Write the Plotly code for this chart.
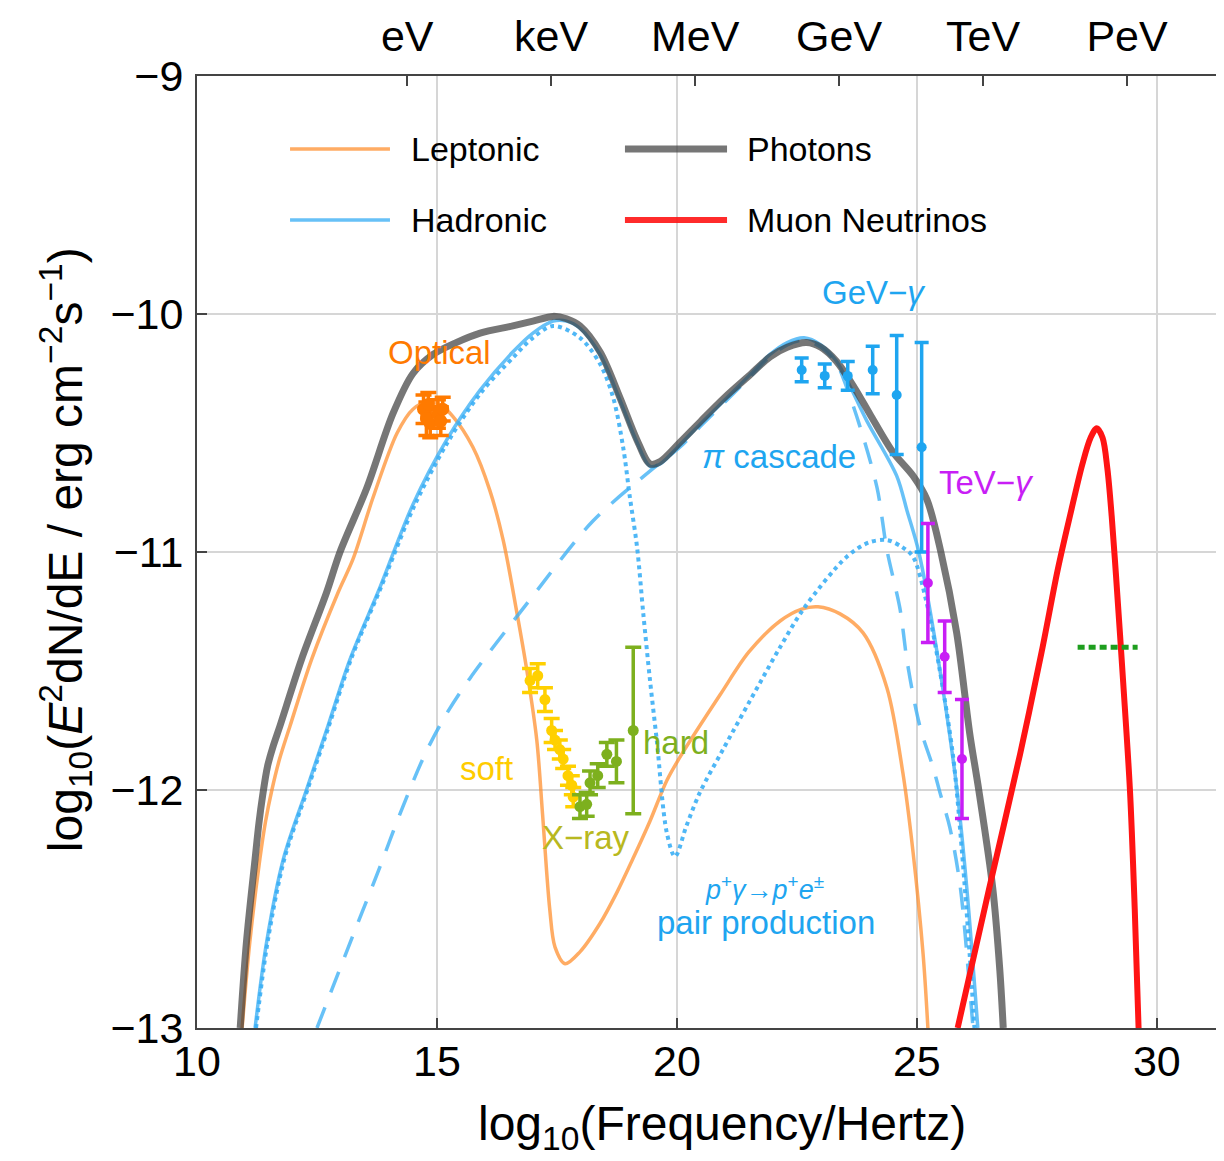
import plotly.graph_objects as go

# ---------------- data ----------------
x_photons = [10.9, 11.03, 11.21, 11.29, 11.37, 11.47, 11.58, 11.73, 12.18, 12.7, 12.98, 13.54, 14.08, 14.5,
             14.92, 15.4, 15.9, 16.58, 17.0, 17.42, 17.7, 17.98, 18.4, 18.81, 19.17, 19.44, 19.65, 20.06,
             20.5, 21.0, 21.5, 21.94, 22.3, 22.7, 23.0, 23.33, 23.7, 24.02, 24.5, 24.92, 25.21, 25.5, 25.83,
             26.1, 26.29, 26.58, 26.73, 26.8]
y_photons = [-13.0, -12.64, -12.29, -12.14, -12.02, -11.9, -11.82, -11.73, -11.45, -11.17, -11.0, -10.73,
             -10.42, -10.25, -10.17, -10.12, -10.08, -10.05, -10.03, -10.01, -10.02, -10.05, -10.16, -10.35,
             -10.53, -10.63, -10.62, -10.54, -10.45, -10.35, -10.26, -10.18, -10.14, -10.12, -10.14, -10.2,
             -10.31, -10.42, -10.58, -10.68, -10.78, -11.0, -11.34, -11.76, -12.0, -12.41, -12.76, -13.0]

x_leptonic = [10.94, 11.1, 11.31, 11.43, 11.56, 11.72, 11.94, 12.39, 12.94, 13.25, 13.67, 14.17, 14.5, 14.8,
              15.05, 15.33, 15.75, 16.1, 16.38, 16.67, 16.875, 17.08, 17.2, 17.35, 17.46, 17.67, 17.98, 18.4,
              18.75, 19.08, 19.44, 19.79, 20.1, 20.9, 21.5, 22.15, 22.6, 22.94, 23.4, 23.88, 24.375, 24.71,
              24.92, 25.13, 25.23]
y_leptonic = [-13.0, -12.64, -12.29, -12.13, -12.0, -11.87, -11.73, -11.45, -11.17, -11.03, -10.77, -10.5,
              -10.4, -10.37, -10.38, -10.43, -10.56, -10.74, -10.95, -11.26, -11.5, -11.79, -12.1, -12.5,
              -12.66, -12.73, -12.68, -12.56, -12.43, -12.29, -12.13, -11.96, -11.85, -11.6, -11.42, -11.29,
              -11.24, -11.23, -11.26, -11.34, -11.57, -11.93, -12.26, -12.69, -13.0]

x_hadronic = [11.21, 11.45, 11.8, 12.28, 12.73, 13.19, 13.81, 14.5, 15.2, 15.9, 16.58, 17.0, 17.42, 17.7,
              17.98, 18.4, 18.81, 19.17, 19.44, 19.65, 20.06, 20.5, 21.0, 21.5, 21.94, 22.3, 22.65, 23.0,
              23.33, 23.96, 24.58, 24.8, 25.04, 25.42, 25.83, 26.04, 26.27]
y_hadronic = [-13.0, -12.64, -12.29, -12.0, -11.73, -11.45, -11.15, -10.8, -10.53, -10.32, -10.16, -10.08,
              -10.03, -10.03, -10.06, -10.17, -10.36, -10.54, -10.64, -10.63, -10.55, -10.46, -10.36, -10.26,
              -10.17, -10.12, -10.1, -10.13, -10.2, -10.45, -10.68, -10.83, -11.0, -11.42, -11.99, -12.41,
              -13.0]

x_pair = [11.23, 11.47, 11.82, 12.3, 12.75, 13.21, 13.83, 14.52, 15.22, 15.92, 16.6, 17.0, 17.42, 17.98,
          18.4, 18.67, 18.88, 19.02, 19.17, 19.3, 19.44, 19.58, 19.79, 19.96, 20.2, 20.48, 20.96, 21.73,
          22.15, 22.67, 23.54, 24.0, 24.375, 24.7, 24.92, 25.2, 25.48, 25.75, 25.94, 26.1, 26.2]
y_pair = [-13.0, -12.64, -12.29, -12.0, -11.73, -11.45, -11.15, -10.81, -10.54, -10.33, -10.18, -10.1,
          -10.05, -10.1, -10.21, -10.35, -10.56, -10.77, -10.98, -11.26, -11.54, -11.79, -12.18, -12.28,
          -12.15, -12.01, -11.83, -11.55, -11.4, -11.23, -11.02, -10.96, -10.95, -10.98, -11.02, -11.21,
          -11.5, -11.85, -12.26, -12.69, -13.0]

x_cascade = [12.5, 13.29, 13.78, 14.23, 14.75, 15.17, 15.69, 16.94, 18.25, 19.5, 20.06, 20.5, 21.0, 21.5,
             21.94, 22.3, 22.65, 23.0, 23.33, 23.54, 23.81, 24.17, 24.375, 24.65, 24.79, 24.96, 25.1, 25.33,
             25.48, 25.69, 25.9, 26.1, 26.17]
y_cascade = [-13.0, -12.59, -12.34, -12.1, -11.85, -11.69, -11.53, -11.2, -10.87, -10.65, -10.56, -10.47,
             -10.37, -10.27, -10.18, -10.13, -10.11, -10.14, -10.21, -10.31, -10.47, -10.73, -10.99, -11.24,
             -11.45, -11.64, -11.76, -11.9, -12.01, -12.16, -12.4, -12.83, -13.0]

x_neutrino = [25.85, 26.5, 27.15, 27.6, 27.94, 28.2, 28.45, 28.62, 28.75, 28.87, 28.97, 29.06, 29.15, 29.3,
              29.44, 29.54, 29.62]
y_neutrino = [-13.0, -12.42, -11.85, -11.42, -11.07, -10.84, -10.63, -10.52, -10.48, -10.52, -10.65, -10.85,
              -11.1, -11.55, -12.0, -12.5, -13.0]

x_limit = [28.35, 29.6]
y_limit = [-11.4, -11.4]

x_optical = [14.72, 14.78, 14.82, 14.86, 15.02, 15.08, 15.12]
y_optical = [-10.40, -10.44, -10.38, -10.46, -10.42, -10.45, -10.40]
e_optical = [0.06, 0.07, 0.05, 0.06, 0.06, 0.06, 0.05]

x_soft = [16.94, 17.1, 17.25, 17.39, 17.46, 17.56, 17.63, 17.73, 17.81, 17.84]
y_soft = [-11.54, -11.52, -11.62, -11.75, -11.79, -11.83, -11.87, -11.94, -11.98, -12.03]
e_soft = [0.05, 0.05, 0.05, 0.05, 0.04, 0.04, 0.04, 0.04, 0.04, 0.04]

x_hard = [17.98, 18.12, 18.19, 18.35, 18.54, 18.74, 19.09]
y_hard = [-12.07, -12.06, -11.97, -11.94, -11.85, -11.88, -11.75]
e_hard = [0.05, 0.05, 0.05, 0.05, 0.05, 0.09, 0.35]

x_gev = [22.6, 23.08, 23.56, 24.08, 24.58, 25.1]
y_gev = [-10.235, -10.26, -10.26, -10.235, -10.34, -10.56]
e_gev = [0.05, 0.05, 0.06, 0.1, 0.25, 0.44]

x_tev = [25.23, 25.58, 25.94]
y_tev = [-11.13, -11.44, -11.87]
e_tev = [0.25, 0.15, 0.25]

bottom_ticks = [10, 15, 20, 25, 30]
left_ticks = [-9, -10, -11, -12, -13]
energy_ticks = [14.38, 17.38, 20.38, 23.38, 26.38, 29.38]
energy_labels = ["eV", "keV", "MeV", "GeV", "TeV", "PeV"]

# ---------------- styles ----------------
FONT = "Liberation Sans, Arial, Helvetica, sans-serif"
C_LEP = "rgba(255,140,40,0.72)"
C_HAD = "rgba(60,175,245,0.78)"
C_PHO = "rgba(60,60,60,0.70)"
C_NU = "rgb(255,20,20)"
C_GEV = "#1EA5F0"

fig = go.Figure()


def curve(x, y, color, width, dash="solid"):
    fig.add_trace(go.Scatter(x=x, y=y, mode="lines", line=dict(color=color, width=width, dash=dash,
                                                                shape="spline", smoothing=0.9),
                             showlegend=False, hoverinfo="skip"))


curve(x_leptonic, y_leptonic, C_LEP, 3.5)
curve(x_cascade, y_cascade, C_HAD, 3.5, "22px,16px")
curve(x_pair, y_pair, "rgba(60,175,245,0.9)", 4, "dot")
curve(x_hadronic, y_hadronic, C_HAD, 3.5)
curve(x_photons, y_photons, C_PHO, 7)
curve(x_neutrino, y_neutrino, C_NU, 6)

fig.add_trace(go.Scatter(x=x_limit, y=y_limit, mode="lines",
                         line=dict(color="#1E9E1E", width=5, dash="7px,4px"),
                         showlegend=False, hoverinfo="skip"))


def points(x, y, e, color, size=10, cap=7):
    fig.add_trace(go.Scatter(x=x, y=y, mode="markers",
                             marker=dict(color=color, size=size),
                             error_y=dict(type="data", array=e, color=color, thickness=3.5, width=cap),
                             showlegend=False, hoverinfo="skip"))


points(x_optical, y_optical, e_optical, "#FF7A00", size=13, cap=8)
points(x_soft, y_soft, e_soft, "#FFD000", size=11, cap=8)
points(x_hard, y_hard, e_hard, "#7DB01E", size=11, cap=8)
points(x_gev, y_gev, e_gev, C_GEV, size=10, cap=7)
points(x_tev, y_tev, e_tev, "#C81EF5", size=10, cap=7)

# invisible trace to activate the top axis
fig.add_trace(go.Scatter(x=[10, 31.4], y=[-13, -13], xaxis="x2", mode="markers",
                         marker=dict(opacity=0), showlegend=False, hoverinfo="skip"))

axis_common = dict(ticks="inside", ticklen=10, tickwidth=2, tickcolor="#444", automargin=False,
                   showline=True, linecolor="#444", linewidth=2, zeroline=False,
                   tickfont=dict(family=FONT, size=43, color="black"))

# the page body adds an 8px offset, so the figure is 8px smaller and margins are shifted
fig.update_layout(
    width=1216, height=1153,
    margin=dict(l=189, r=0, t=68, b=133, autoexpand=False),
    paper_bgcolor="white", plot_bgcolor="white",
    showlegend=False,
    xaxis=dict(range=[10, 31.4], tickvals=bottom_ticks, showgrid=True, gridcolor="#d6d6d6", gridwidth=1.5,
               ticklabelstandoff=-6, **axis_common),
    xaxis2=dict(range=[10, 31.4], overlaying="x", side="top", tickvals=energy_ticks, ticktext=energy_labels,
                showgrid=False, ticklabelstandoff=6, **axis_common),
    yaxis=dict(range=[-13, -9], tickvals=left_ticks, showgrid=True, gridcolor="#d6d6d6", gridwidth=1.5,
               ticklabelstandoff=3, **axis_common),
)

# ---------------- legend (drawn manually, 2x2) ----------------
legend_rows = [(0.9233, [("Leptonic", C_LEP, 3.5), ("Photons", C_PHO, 7)]),
               (0.8487, [("Hadronic", C_HAD, 3.5), ("Muon Neutrinos", "rgba(255,20,20,0.9)", 6)])]
cols = [(0.0906, 0.1879, 0.2064), (0.4167, 0.5161, 0.5336)]
for ypos, entries in legend_rows:
    for (name, col, w), (x0, x1, xt) in zip(entries, cols):
        fig.add_shape(type="line", xref="paper", yref="paper", x0=x0, x1=x1, y0=ypos, y1=ypos,
                      line=dict(color=col, width=w))
        fig.add_annotation(xref="paper", yref="paper", x=xt, y=ypos, text=name, showarrow=False,
                           xanchor="left", yanchor="middle", font=dict(family=FONT, size=34, color="black"))

# ---------------- text labels ----------------
labels = [
    (15.06, -10.16, "Optical", "#FF7A00", 33),
    (16.04, -11.91, "soft", "#FFCC00", 33),
    (18.1, -12.2, "X\u2212ray", "#B8B820", 33),
    (19.98, -11.8, "hard", "#7DB01E", 33),
    (24.1, -9.91, "GeV\u2212<i>\u03b3</i>", C_GEV, 33),
    (22.13, -10.6, "<i>\u03c0</i> cascade", C_GEV, 33),
    (26.46, -10.71, "TeV\u2212<i>\u03b3</i>", "#C81EF5", 33),
    (21.83, -12.41, "<i>p</i><sup>+</sup><i>\u03b3</i>\u2192<i>p</i><sup>+</sup><i>e</i><sup>\u00b1</sup>", C_GEV, 27),
    (21.85, -12.555, "pair production", C_GEV, 33),
]
for x, y, t, c, s in labels:
    fig.add_annotation(x=x, y=y, text=t, showarrow=False, xanchor="center", yanchor="middle",
                       font=dict(family=FONT, size=s, color=c))

# axis titles
fig.add_annotation(xref="paper", yref="paper", x=0.511, y=-0.104, text="log<sub>10</sub>(Frequency/Hertz)",
                   showarrow=False, xanchor="center", yanchor="middle",
                   font=dict(family=FONT, size=48, color="black"))
fig.add_annotation(xref="paper", yref="paper", x=-0.1285, y=0.502,
                   text="log<sub>10</sub>(<i>E</i><sup>2</sup>dN/dE / erg cm<sup>\u22122</sup>s<sup>\u22121</sup>)",
                   showarrow=False, textangle=-90, xanchor="center", yanchor="middle",
                   font=dict(family=FONT, size=48, color="black"))

fig.write_html("out.html")
